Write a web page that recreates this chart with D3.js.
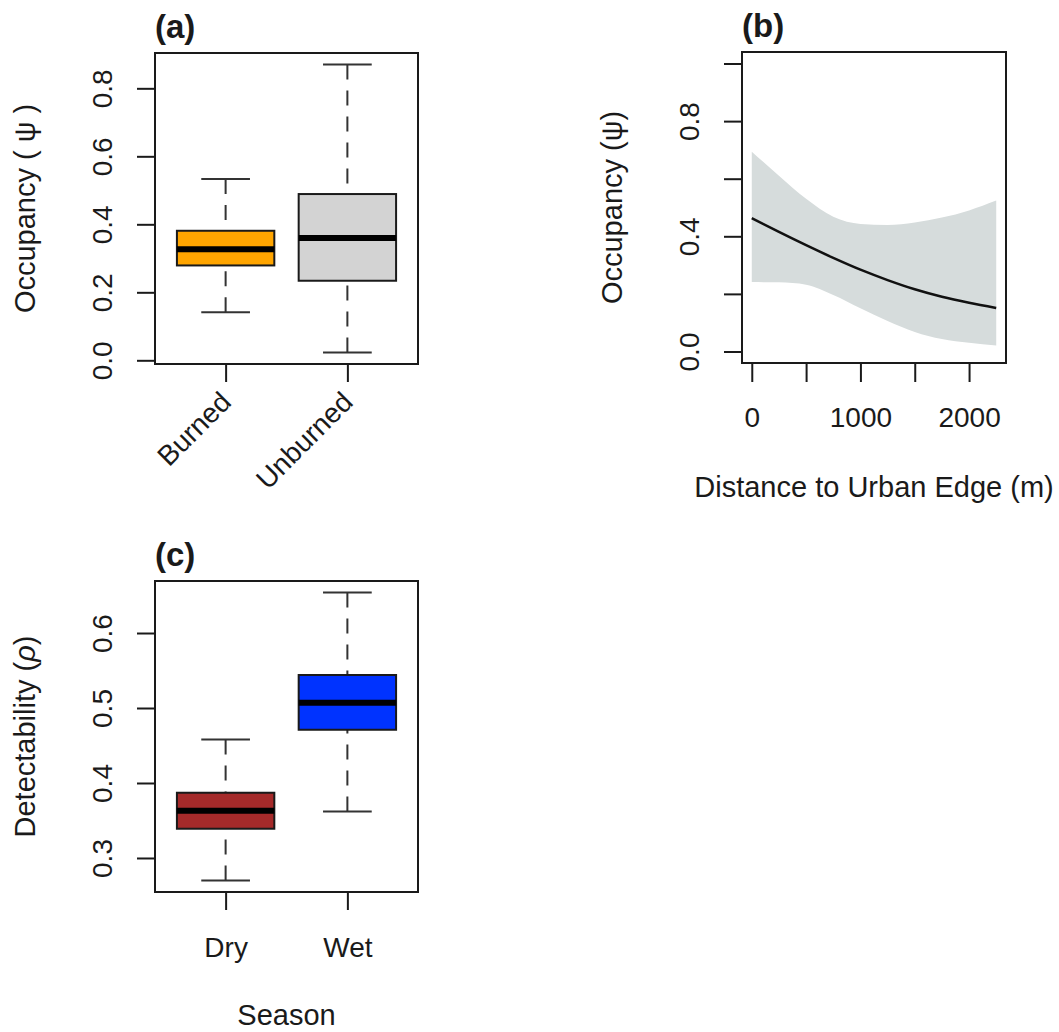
<!DOCTYPE html>
<html>
<head>
<meta charset="utf-8">
<script src="https://cdn.jsdelivr.net/npm/d3@7"></script>
<style>
  html, body { margin: 0; padding: 0; background: #ffffff; }
  svg { display: block; font-family: "Liberation Sans", Arial, Helvetica, sans-serif; }
</style>
</head>
<body>
<div id="chart"></div>
<script>
// ---------------- DATA ----------------
// Panel (a): occupancy by burn status (boxplot five-number summaries)
const burnCategories = ["Burned", "Unburned"];
const burnWhiskerLow = [0.141, 0.023];
const burnQ1 = [0.279, 0.234];
const burnMedian = [0.327, 0.360];
const burnQ3 = [0.381, 0.489];
const burnWhiskerHigh = [0.533, 0.870];
const burnYTicks = [0.0, 0.2, 0.4, 0.6, 0.8];
const burnYTickLabels = ["0.0", "0.2", "0.4", "0.6", "0.8"];

// Panel (b): occupancy vs distance to urban edge
const distance = [0, 250, 500, 750, 1000, 1250, 1500, 1750, 2000, 2250];
const occMean  = [0.463, 0.415, 0.369, 0.325, 0.284, 0.248, 0.216, 0.190, 0.169, 0.151];
const occUpper = [0.694, 0.610, 0.530, 0.468, 0.443, 0.439, 0.448, 0.465, 0.490, 0.524];
const occLower = [0.241, 0.240, 0.232, 0.196, 0.150, 0.106, 0.068, 0.043, 0.030, 0.021];
const distXTicks = [0, 500, 1000, 1500, 2000];
const distXTickLabels = ["0", "", "1000", "", "2000"];
const distYTicks = [0.0, 0.2, 0.4, 0.6, 0.8, 1.0];
const distYTickLabels = ["0.0", "", "0.4", "", "0.8", ""];

// Panel (c): detectability by season
const seasonCategories = ["Dry", "Wet"];
const seasonWhiskerLow = [0.270, 0.362];
const seasonQ1 = [0.339, 0.471];
const seasonMedian = [0.363, 0.507];
const seasonQ3 = [0.387, 0.544];
const seasonWhiskerHigh = [0.458, 0.654];
const seasonYTicks = [0.3, 0.4, 0.5, 0.6];
const seasonYTickLabels = ["0.3", "0.4", "0.5", "0.6"];

// ---------------- DRAWING ----------------
const W = 1059, H = 1032;
const INK = "#1a1a1a";
const FS = 28;     // tick labels
const FSL = 29;    // axis titles

const svg = d3.select("#chart").append("svg")
  .attr("width", W).attr("height", H)
  .attr("viewBox", `0 0 ${W} ${H}`);
svg.append("rect").attr("width", W).attr("height", H).attr("fill", "#ffffff");

function rangeExt(lo, hi) {
  const r = hi - lo;
  return [lo - 0.04 * r, hi + 0.04 * r];
}

function styleAxis(g) {
  g.select(".domain").remove();
  g.selectAll(".tick line").attr("stroke", INK).attr("stroke-width", 2);
  g.selectAll(".tick text").attr("fill", INK).style("font-size", FS + "px")
    .style("font-family", '"Liberation Sans", Arial, sans-serif');
}

function yAxisRotated(g, yScale, ticks, labels, left) {
  const ax = g.append("g").attr("transform", `translate(${left},0)`)
    .call(d3.axisLeft(yScale).tickValues(ticks).tickSize(18).tickSizeOuter(0)
      .tickFormat((d, i) => labels[i]));
  styleAxis(ax);
  ax.selectAll(".tick text")
    .attr("x", null).attr("dy", null)
    .attr("text-anchor", "middle")
    .attr("transform", "translate(-43,0) rotate(-90)");
  g.append("line").attr("x1", left).attr("x2", left)
    .attr("y1", yScale(ticks[0])).attr("y2", yScale(ticks[ticks.length - 1]))
    .attr("stroke", INK).attr("stroke-width", 2);
}

function frame(g, box) {
  g.append("rect").attr("x", box.l).attr("y", box.t)
    .attr("width", box.r - box.l).attr("height", box.b - box.t)
    .attr("fill", "none").attr("stroke", INK).attr("stroke-width", 2);
}

function title(g, txt, x, y) {
  g.append("text").attr("x", x).attr("y", y).text(txt)
    .attr("fill", INK).style("font-size", "33px").style("font-weight", "bold");
}

function yLabel(g, parts, x, y) {
  const t = g.append("text").attr("transform", `translate(${x},${y}) rotate(-90)`)
    .attr("text-anchor", "middle").attr("fill", INK).style("font-size", FSL + "px");
  parts.forEach(p => {
    const ts = t.append("tspan").text(p.t);
    if (p.italic) ts.style("font-style", "italic");
  });
}

function boxPanel(cfg) {
  const g = svg.append("g");
  const box = cfg.box;
  const n = cfg.cats.length;
  const x = d3.scaleLinear().domain([0.5 - 0.04 * n, n + 0.5 + 0.04 * n]).range([box.l, box.r]);
  const y = d3.scaleLinear().domain(rangeExt(d3.min(cfg.lo), d3.max(cfg.hi))).range([box.b, box.t]);

  cfg.cats.forEach((c, i) => {
    const cx = x(i + 1);
    const hw = (x(1.4) - x(1));
    const cw = (x(1.2) - x(1));
    [[cfg.hi[i], cfg.q3[i]], [cfg.lo[i], cfg.q1[i]]].forEach(([a, b]) => {
      g.append("line").attr("x1", cx).attr("x2", cx).attr("y1", y(a)).attr("y2", y(b))
        .attr("stroke", "#333").attr("stroke-width", 2).attr("stroke-dasharray", "15,11");
      g.append("line").attr("x1", cx - cw).attr("x2", cx + cw).attr("y1", y(a)).attr("y2", y(a))
        .attr("stroke", "#333").attr("stroke-width", 2);
    });
    g.append("rect").attr("x", cx - hw).attr("y", y(cfg.q3[i]))
      .attr("width", 2 * hw).attr("height", y(cfg.q1[i]) - y(cfg.q3[i]))
      .attr("fill", cfg.fills[i]).attr("stroke", INK).attr("stroke-width", 2);
    g.append("line").attr("x1", cx - hw).attr("x2", cx + hw)
      .attr("y1", y(cfg.med[i])).attr("y2", y(cfg.med[i]))
      .attr("stroke", "#000").attr("stroke-width", 6);
  });

  frame(g, box);
  yAxisRotated(g, y, cfg.yTicks, cfg.yLabels, box.l);

  const xa = g.append("g").attr("transform", `translate(0,${box.b})`)
    .call(d3.axisBottom(x).tickValues(cfg.cats.map((c, i) => i + 1)).tickSize(18).tickSizeOuter(0)
      .tickFormat((d, i) => cfg.cats[i]));
  styleAxis(xa);
  g.append("line").attr("x1", x(1)).attr("x2", x(n)).attr("y1", box.b).attr("y2", box.b)
    .attr("stroke", INK).attr("stroke-width", 2);
  if (cfg.rotateX) {
    xa.selectAll(".tick text").attr("y", null).attr("dy", null)
      .attr("text-anchor", "end").attr("dominant-baseline", "central")
      .attr("transform", "translate(0,33) rotate(-45)");
  } else {
    xa.selectAll(".tick text").attr("y", 65).attr("dy", null);
  }
  title(g, cfg.title, box.l, box.t - 15);
  yLabel(g, cfg.ylab, box.l - 120, (box.t + box.b) / 2);
  if (cfg.xlab) {
    g.append("text").attr("x", (box.l + box.r) / 2).attr("y", box.b + 133)
      .attr("text-anchor", "middle").attr("fill", INK).style("font-size", FSL + "px").text(cfg.xlab);
  }
}

// Panel (a)
boxPanel({
  box: { l: 155, r: 418, t: 53, b: 364 },
  cats: burnCategories, lo: burnWhiskerLow, q1: burnQ1, med: burnMedian, q3: burnQ3, hi: burnWhiskerHigh,
  fills: ["#FFA500", "#D3D3D3"],
  yTicks: burnYTicks, yLabels: burnYTickLabels,
  rotateX: true, title: "(a)",
  ylab: [{ t: "Occupancy ( \u03C8 )" }]
});

// Panel (c)
boxPanel({
  box: { l: 155, r: 418, t: 581, b: 892 },
  cats: seasonCategories, lo: seasonWhiskerLow, q1: seasonQ1, med: seasonMedian, q3: seasonQ3, hi: seasonWhiskerHigh,
  fills: ["#A52A2A", "#0033FF"],
  yTicks: seasonYTicks, yLabels: seasonYTickLabels,
  rotateX: false, title: "(c)",
  ylab: [{ t: "Detectability (" }, { t: "\u03C1", italic: true }, { t: ")" }],
  xlab: "Season"
});

// Panel (b)
(function () {
  const g = svg.append("g");
  const box = { l: 742, r: 1006, t: 52, b: 363 };
  const dExt = rangeExt(d3.min(distance), d3.max(distance));
  const x = d3.scaleLinear().domain(dExt).range([box.l, box.r]);
  const y = d3.scaleLinear().domain(rangeExt(0, 1)).range([box.b, box.t]);
  const pts = distance.map((d, i) => ({ d, m: occMean[i], u: occUpper[i], lo: occLower[i] }));
  g.append("path").datum(pts)
    .attr("d", d3.area().x(p => x(p.d)).y0(p => y(p.lo)).y1(p => y(p.u)).curve(d3.curveMonotoneX))
    .attr("fill", "#D6DCDC").attr("stroke", "none");
  g.append("path").datum(pts)
    .attr("d", d3.line().x(p => x(p.d)).y(p => y(p.m)).curve(d3.curveMonotoneX))
    .attr("fill", "none").attr("stroke", "#111").attr("stroke-width", 2.5);
  frame(g, box);
  yAxisRotated(g, y, distYTicks, distYTickLabels, box.l);
  const xa = g.append("g").attr("transform", `translate(0,${box.b})`)
    .call(d3.axisBottom(x).tickValues(distXTicks).tickSize(19).tickSizeOuter(0)
      .tickFormat((d, i) => distXTickLabels[i]));
  styleAxis(xa);
  xa.selectAll(".tick text").attr("y", 64).attr("dy", null);
  g.append("line").attr("x1", x(distXTicks[0])).attr("x2", x(distXTicks[distXTicks.length - 1]))
    .attr("y1", box.b).attr("y2", box.b).attr("stroke", INK).attr("stroke-width", 2);
  title(g, "(b)", box.l, box.t - 15);
  yLabel(g, [{ t: "Occupancy (\u03C8)" }], box.l - 120, (box.t + box.b) / 2);
  g.append("text").attr("x", (box.l + box.r) / 2).attr("y", box.b + 134)
    .attr("text-anchor", "middle").attr("fill", INK).style("font-size", FSL + "px")
    .text("Distance to Urban Edge (m)");
})();
</script>
</body>
</html>
